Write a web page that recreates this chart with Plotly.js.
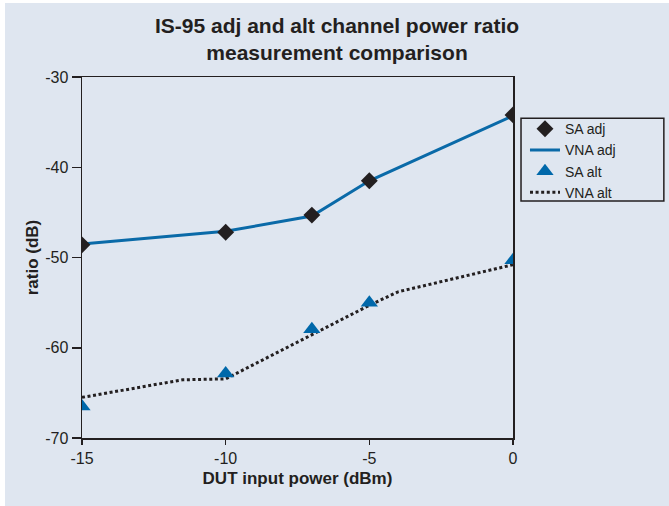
<!DOCTYPE html>
<html>
<head>
<meta charset="utf-8">
<script src="https://cdn.plot.ly/plotly-3.0.1.min.js"></script>
<style>
  html, body { margin: 0; padding: 0; background: #ffffff; }
  #chart { position: absolute; left: 5px; top: 3px; width: 664px; height: 503px; }
</style>
</head>
<body>
<div id="chart"></div>
<script>
// Data
const saAdjX = [-15, -10, -7, -5, 0];
const saAdjY = [-48.6, -47.2, -45.3, -41.5, -34.2];

const vnaAdjX = [-15, -10, -7, -5, 0];
const vnaAdjY = [-48.5, -47.1, -45.4, -41.5, -34.3];

const saAltX = [-15, -10, -7, -5, 0];
const saAltY = [-66.5, -62.85, -57.95, -55.0, -50.3];

const vnaAltX = [-15, -11.5, -10, -7, -5, -4, 0];
const vnaAltY = [-65.5, -63.55, -63.45, -58.6, -55.3, -53.8, -50.8];

const xTicks = [-15, -10, -5, 0];
const yTicks = [-70, -60, -50, -40, -30];

const ink = '#231f20';
const blue = '#0a6aa8';
const bg = '#dfe6f0';
const font = 'Liberation Sans, Arial, Helvetica, sans-serif';

const saAdj = {
  x: saAdjX, y: saAdjY, name: 'SA adj', type: 'scatter', mode: 'markers',
  marker: { symbol: 'diamond', size: 13, color: ink }, legendrank: 1
};
const vnaAdj = {
  x: vnaAdjX, y: vnaAdjY, name: 'VNA adj', type: 'scatter', mode: 'lines',
  line: { color: blue, width: 3 }, legendrank: 2
};
const saAlt = {
  x: saAltX, y: saAltY, name: 'SA alt', type: 'scatter', mode: 'markers',
  marker: { symbol: 'triangle-up', size: 15, color: '#0068aa' }, legendrank: 3
};
const vnaAlt = {
  x: vnaAltX, y: vnaAltY, name: 'VNA alt', type: 'scatter', mode: 'lines',
  line: { color: ink, width: 3, dash: '3px,2.6px' }, legendrank: 4
};

// lines drawn first so markers sit on top
const data = [vnaAdj, vnaAlt, saAdj, saAlt];

const layout = {
  width: 664, height: 503,
  paper_bgcolor: bg, plot_bgcolor: bg,
  margin: { l: 77, r: 156, t: 74, b: 68 },
  font: { family: font, color: ink, size: 15 },
  title: {
    text: 'IS-95 adj and alt channel power ratio<br>measurement comparison',
    font: { family: font, size: 21, color: ink, weight: 'bold' },
    x: 0.5, xref: 'container', xanchor: 'center',
    y: 0.941, yref: 'container', yanchor: 'middle'
  },
  xaxis: {
    range: [-15, 0], tickvals: xTicks, ticktext: xTicks.map(String),
    showgrid: false, zeroline: false,
    showline: true, linecolor: ink, linewidth: 1.5, mirror: true,
    ticks: 'outside', ticklen: 5, tickwidth: 1.5, tickcolor: ink,
    tickfont: { size: 16, color: ink },
    title: { text: 'DUT input power (dBm)', font: { size: 17, weight: 'bold', color: ink }, standoff: 6 }
  },
  yaxis: {
    range: [-70, -30], tickvals: yTicks, ticktext: yTicks.map(String),
    showgrid: false, zeroline: false,
    showline: true, linecolor: ink, linewidth: 1.5, mirror: true,
    ticks: 'outside', ticklen: 9, tickwidth: 1.5, tickcolor: ink,
    tickfont: { size: 16, color: ink },
    title: { text: 'ratio (dB)', font: { size: 17, weight: 'bold', color: ink }, standoff: 2 }
  },
  legend: {
    x: 1.0278, y: 0.8998, xanchor: 'left', yanchor: 'top',
    bgcolor: 'rgba(0,0,0,0)', borderwidth: 0,
    font: { size: 14, color: ink }, tracegroupgap: 0
  },
  shapes: [{
    // legend frame
    type: 'rect', xref: 'paper', yref: 'paper',
    x0: 1.0186, x1: 1.350, y0: 0.6564, y1: 0.8855,
    line: { color: ink, width: 1.5 }, fillcolor: 'rgba(0,0,0,0)', layer: 'above'
  }],
  showlegend: true
};

Plotly.newPlot('chart', data, layout, { displayModeBar: false, staticPlot: true });
</script>
</body>
</html>
